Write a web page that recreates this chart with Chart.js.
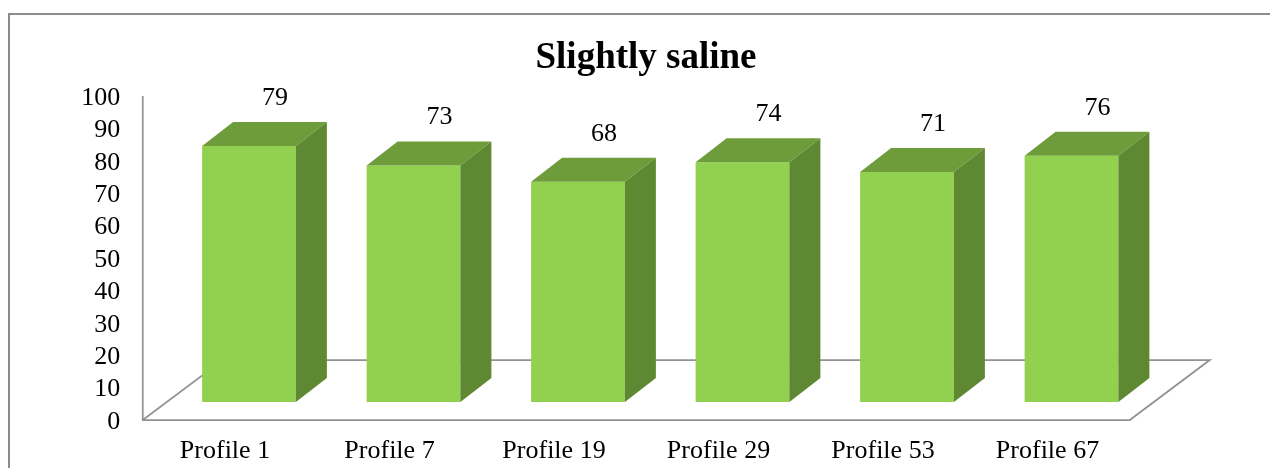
<!DOCTYPE html>
<html>
<head>
<meta charset="utf-8">
<script src="https://cdn.jsdelivr.net/npm/chart.js@4.4.0/dist/chart.umd.min.js"></script>
<style>
  html, body { margin: 0; padding: 0; background: #fff; }
</style>
</head>
<body>
<canvas id="graficoSalino" width="1270" height="468"></canvas>
<script>
    // Datos del gráfico
    var perfiles = ['Profile 1', 'Profile 7', 'Profile 19', 'Profile 29', 'Profile 53', 'Profile 67'];
    var valores = [79, 73, 68, 74, 71, 76];
    var marcasY = [0, 10, 20, 30, 40, 50, 60, 70, 80, 90, 100];

    var fuente = "'Liberation Serif', 'Times New Roman', serif";
    // profundidad de la caja 3D de cada barra
    var dx = 31, dy = -24;

    // Dibuja el marco, el piso y las caras superior y lateral de las barras
    var caras3D = {
        id: 'caras3D',
        afterLayout: function (chart) {
            // el título va centrado sobre el marco completo, no sobre el área
            if (chart.titleBlock) {
                chart.titleBlock.left = 22;
                chart.titleBlock.right = 1270;
            }
        },
        beforeDatasetsDraw: function (chart) {
            var ctx = chart.ctx, area = chart.chartArea, ey = chart.scales.y;
            ctx.save();
            ctx.strokeStyle = '#8c8c8c';
            ctx.lineWidth = 2;
            ctx.strokeRect(9, 14, 1400, 600);

            var x0 = area.left - 24, x1 = area.right - 24;
            var yb = ey.getPixelForValue(marcasY[0]) + 18;
            var yt = ey.getPixelForValue(marcasY[marcasY.length - 1]) + 18;
            ctx.strokeStyle = '#939393';
            ctx.lineWidth = 1.75;
            ctx.beginPath();
            ctx.moveTo(x0, yt);
            ctx.lineTo(x0, yb);
            ctx.lineTo(x1, yb);
            ctx.lineTo(x1 + 80, yb - 60);
            ctx.lineTo(x0 + 80, yb - 60);
            ctx.lineTo(x0, yb);
            ctx.stroke();
            ctx.restore();
        },
        afterDatasetsDraw: function (chart) {
            var ctx = chart.ctx;
            var datos = chart.data.datasets[0].data;
            ctx.save();
            chart.getDatasetMeta(0).data.forEach(function (bar, i) {
                var l = bar.x - bar.width / 2, r = bar.x + bar.width / 2, t = bar.y, b = bar.base;
                // cara superior
                ctx.fillStyle = '#6F9C3A';
                ctx.beginPath();
                ctx.moveTo(l, t); ctx.lineTo(l + dx, t + dy); ctx.lineTo(r + dx, t + dy); ctx.lineTo(r, t);
                ctx.closePath(); ctx.fill();
                // cara lateral
                ctx.fillStyle = '#5E8832';
                ctx.beginPath();
                ctx.moveTo(r, t); ctx.lineTo(r + dx, t + dy); ctx.lineTo(r + dx, b + dy); ctx.lineTo(r, b);
                ctx.closePath(); ctx.fill();
                // etiqueta del valor
                ctx.fillStyle = '#000';
                ctx.font = '26px ' + fuente;
                ctx.textAlign = 'center';
                ctx.textBaseline = 'middle';
                ctx.fillText(datos[i], bar.x + 26, bar.y - 48);
            });
            ctx.restore();
        }
    };

    var ctx = document.getElementById('graficoSalino').getContext('2d');

    var graficoSalino = new Chart(ctx, {
        type: 'bar',
        data: {
            labels: perfiles,
            datasets: [{
                data: valores,
                backgroundColor: '#92D050',
                borderWidth: 0,
                categoryPercentage: 1,
                barPercentage: 0.57
            }]
        },
        options: {
            responsive: false,
            animation: false,
            events: [],
            layout: { padding: { left: 0, right: 116.25, top: 36.6, bottom: 0 } },
            plugins: {
                legend: { display: false },
                tooltip: { enabled: false },
                title: {
                    display: true,
                    text: 'Slightly saline',
                    color: '#000',
                    font: { family: fuente, size: 37, weight: 'bold' },
                    padding: { top: 0, bottom: -3 }
                }
            },
            scales: {
                x: {
                    grid: { display: false, drawTicks: false },
                    border: { display: false },
                    ticks: { color: '#000', font: { family: fuente, size: 26 }, padding: 34, labelOffset: -24, maxRotation: 0 },
                    afterFit: function (s) { s.height = 66; }
                },
                y: {
                    min: marcasY[0],
                    max: marcasY[marcasY.length - 1],
                    grid: { display: false, drawTicks: false },
                    border: { display: false },
                    ticks: { stepSize: marcasY[1] - marcasY[0], autoSkip: false, color: '#000', font: { family: fuente, size: 26 }, padding: 46.5, labelOffset: 20 },
                    afterFit: function (s) { s.width = 166.75; }
                }
            }
        },
        plugins: [caras3D]
    });
</script>
</body>
</html>
